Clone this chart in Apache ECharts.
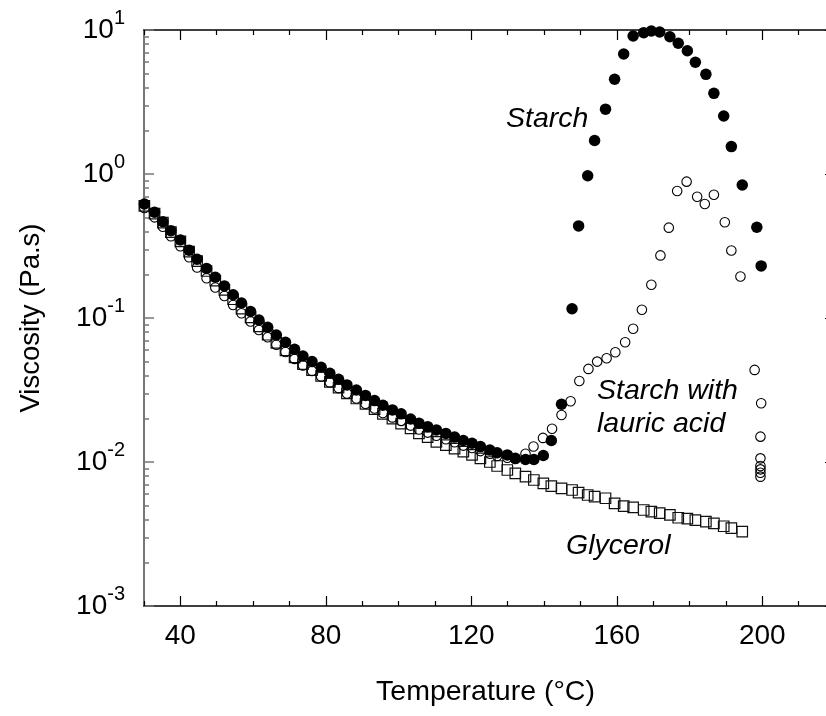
<!DOCTYPE html>
<html>
<head>
<meta charset="utf-8">
<script src="https://cdn.jsdelivr.net/npm/echarts@6/dist/echarts.min.js"></script>
<style>
  html, body { margin: 0; padding: 0; background: #fff; }
  #chart { width: 826px; height: 716px; }
</style>
</head>
<body>
<div id="chart"></div>
<script>
// Viscosity vs temperature for starch, starch + lauric acid and glycerol

const starchT = [30.1, 32.9, 35.2, 37.4, 40.0, 42.4, 44.6, 47.2, 49.6, 52.1, 54.5, 56.8, 59.3, 61.6, 64.0, 66.4, 68.9, 71.4, 73.7, 76.2,
  78.7, 81.1, 83.5, 85.8, 88.4, 90.9, 93.4, 95.7, 98.3, 100.7, 103.3, 105.6, 108.0, 110.4, 113.0, 115.4, 117.8, 120.2, 122.5, 125.1,
  127.1, 129.9, 132.1, 134.9, 137.2, 139.8, 142.0, 144.8, 147.7, 149.5, 152.0, 153.9, 156.9, 159.4, 161.9, 164.5, 167.4, 169.5, 171.8, 174.6,
  176.9, 179.4, 181.6, 184.5, 186.7, 189.4, 191.5, 194.5, 198.5, 199.7];
const starchV = [0.619, 0.542, 0.466, 0.404, 0.348, 0.296, 0.256, 0.221, 0.192, 0.167, 0.145, 0.127, 0.111, 0.0968, 0.0861, 0.0762, 0.0678, 0.0606, 0.0545, 0.0498,
  0.0455, 0.0413, 0.0375, 0.0343, 0.0316, 0.0290, 0.0267, 0.0248, 0.0230, 0.0216, 0.0199, 0.0186, 0.0176, 0.0167, 0.0158, 0.0149, 0.0141, 0.0135, 0.0128, 0.0121,
  0.0116, 0.0112, 0.0106, 0.0104, 0.0104, 0.0111, 0.0141, 0.0252, 0.116, 0.436, 0.973, 1.71, 2.82, 4.55, 6.81, 9.09, 9.58, 9.84, 9.69, 8.98,
  8.09, 7.18, 5.97, 4.92, 3.63, 2.53, 1.55, 0.839, 0.427, 0.230];

const lauricT = [30.1, 32.9, 35.2, 37.4, 40.0, 42.4, 44.6, 47.2, 49.6, 52.1, 54.5, 56.8, 59.3, 61.6, 64.0, 66.4, 68.9, 71.4, 73.7, 76.2,
  78.7, 81.1, 83.5, 85.8, 88.4, 90.9, 93.4, 95.7, 98.3, 100.7, 103.3, 105.6, 108.0, 110.4, 113.0, 115.4, 117.8, 120.2, 122.5, 125.1,
  127.1, 129.9, 132.1, 134.9, 137.1, 139.7, 142.2, 144.8, 147.3, 149.7, 152.2, 154.6, 157.2, 159.6, 162.3, 164.5, 166.9, 169.5, 172.0, 174.3,
  176.6, 179.2, 182.1, 184.2, 186.7, 189.7, 191.5, 194.0, 197.9, 199.7, 199.5, 199.5, 199.5, 199.5, 199.5, 199.5];
const lauricV = [0.580, 0.500, 0.430, 0.370, 0.315, 0.264, 0.224, 0.189, 0.163, 0.142, 0.123, 0.108, 0.0945, 0.0825, 0.0735, 0.0652, 0.0580, 0.0520, 0.0468, 0.0428,
  0.0392, 0.0357, 0.0326, 0.0299, 0.0276, 0.0254, 0.0235, 0.0219, 0.0204, 0.0193, 0.0179, 0.0168, 0.0160, 0.0152, 0.0144, 0.0137, 0.0130, 0.0125, 0.0119, 0.0114,
  0.0110, 0.0107, 0.0105, 0.0114, 0.0128, 0.0147, 0.0170, 0.0212, 0.0264, 0.0365, 0.0443, 0.0498, 0.0525, 0.0578, 0.0678, 0.0843, 0.114, 0.170, 0.272, 0.424,
  0.762, 0.885, 0.695, 0.619, 0.718, 0.462, 0.294, 0.194, 0.0436, 0.0256, 0.0150, 0.0106, 0.00938, 0.00889, 0.00843, 0.00791];

const glycerolT = [30.1, 32.9, 35.2, 37.4, 40.0, 42.4, 44.6, 47.2, 49.6, 52.1, 54.5, 56.8, 59.3, 61.6, 64.0, 66.4, 68.9, 71.4, 73.7, 76.2,
  78.7, 81.1, 83.5, 85.8, 88.4, 90.9, 93.4, 95.7, 98.3, 100.7, 103.3, 105.6, 108.0, 110.4, 113.0, 115.4, 117.8, 120.2, 122.5, 125.1,
  127.1, 129.9, 132.1, 134.9, 137.2, 139.8, 142.0, 144.8, 147.7, 149.5, 152.0, 153.9, 156.9, 159.4, 161.9, 164.5, 167.4, 169.5, 171.8, 174.6,
  176.9, 179.4, 181.6, 184.5, 186.7, 189.4, 191.5, 194.5];
const glycerolV = [0.600, 0.530, 0.460, 0.395, 0.340, 0.289, 0.248, 0.212, 0.182, 0.157, 0.135, 0.116, 0.101, 0.0875, 0.0765, 0.0672, 0.0595, 0.0532, 0.0478, 0.0434,
  0.0396, 0.0360, 0.0328, 0.0300, 0.0276, 0.0253, 0.0233, 0.0216, 0.0200, 0.0185, 0.0171, 0.0158, 0.0149, 0.0138, 0.0131, 0.0124, 0.0118, 0.0112, 0.0106, 0.0100,
  0.00938, 0.00880, 0.00835, 0.00791, 0.00750, 0.00711, 0.00681, 0.00656, 0.00639, 0.00612, 0.00590, 0.00574, 0.00560, 0.00516, 0.00494, 0.00484, 0.00464, 0.00452, 0.00441, 0.00429,
  0.00410, 0.00404, 0.00395, 0.00385, 0.00375, 0.00358, 0.00347, 0.00328];

const xMajorTicks = [40, 80, 120, 160, 200];
const xMinorTicks = [30, 50, 60, 70, 90, 100, 110, 130, 140, 150, 170, 180, 190, 210, 220];
const yMajorTicks = [0.001, 0.01, 0.1, 1, 10];
const yMinorTicks = [0.002, 0.003, 0.004, 0.005, 0.006, 0.007, 0.008, 0.009,
  0.02, 0.03, 0.04, 0.05, 0.06, 0.07, 0.08, 0.09,
  0.2, 0.3, 0.4, 0.5, 0.6, 0.7, 0.8, 0.9,
  2, 3, 4, 5, 6, 7, 8, 9];

const FONT = '"Liberation Sans", Arial, sans-serif';
const pair = (xs, ys) => xs.map((x, i) => [x, ys[i]]);

const chart = echarts.init(document.getElementById('chart'), null, { renderer: 'canvas' });

const xBase = { type: 'value', min: 30, max: 220, gridIndex: 0, splitLine: { show: false } };
const yBase = { type: 'log', logBase: 10, min: 0.001, max: 10, gridIndex: 0, splitLine: { show: false } };

chart.setOption({
  animation: false,
  backgroundColor: '#fff',
  // the right frame edge sits just past the canvas edge; only its tick stubs show
  grid: { left: 144, top: 30, width: 691, height: 576, containLabel: false, outerBoundsMode: 'none' },
  xAxis: [
    Object.assign({}, xBase, {
      position: 'bottom',
      name: 'Temperature (°C)',
      nameLocation: 'middle',
      nameGap: 72,
      nameTextStyle: { fontFamily: FONT, fontSize: 28.5, color: '#000', padding: [0, 8, 0, 0] },
      axisLine: { show: true, lineStyle: { color: '#000', width: 1.5 } },
      axisTick: { show: true, inside: true, length: 10, customValues: xMajorTicks, lineStyle: { color: '#000', width: 1.2 } },
      axisLabel: { show: true, customValues: xMajorTicks, margin: 16, fontFamily: FONT, fontSize: 28, color: '#000' }
    }),
    Object.assign({}, xBase, {
      position: 'bottom',
      axisLine: { show: false },
      axisTick: { show: true, inside: true, length: 5, customValues: xMinorTicks, lineStyle: { color: '#000', width: 1.2 } },
      axisLabel: { show: false }
    }),
    Object.assign({}, xBase, {
      position: 'top',
      axisLine: { show: true, lineStyle: { color: '#000', width: 1.5 } },
      axisTick: { show: true, inside: true, length: 10, customValues: xMajorTicks, lineStyle: { color: '#000', width: 1.2 } },
      axisLabel: { show: false }
    }),
    Object.assign({}, xBase, {
      position: 'top',
      axisLine: { show: false },
      axisTick: { show: true, inside: true, length: 5, customValues: xMinorTicks, lineStyle: { color: '#000', width: 1.2 } },
      axisLabel: { show: false }
    })
  ],
  yAxis: [
    Object.assign({}, yBase, {
      position: 'left',
      name: 'Viscosity (Pa.s)',
      nameLocation: 'middle',
      nameGap: 99,
      nameRotate: 90,
      nameTextStyle: { fontFamily: FONT, fontSize: 27.5, color: '#000' },
      axisLine: { show: true, lineStyle: { color: '#777', width: 2 } },
      axisTick: { show: true, inside: true, length: 10, customValues: yMajorTicks, lineStyle: { color: '#777', width: 1.5 } },
      axisLabel: {
        show: true,
        customValues: yMajorTicks,
        margin: 19,
        formatter: v => '{b|10}{s|' + Math.round(Math.log10(v)) + '}',
        rich: {
          b: { fontFamily: FONT, fontSize: 28, color: '#000', lineHeight: 28 },
          s: { fontFamily: FONT, fontSize: 20, color: '#000', verticalAlign: 'top', height: 4, lineHeight: 4 }
        }
      }
    }),
    Object.assign({}, yBase, {
      position: 'left',
      axisLine: { show: false },
      axisTick: { show: true, inside: true, length: 5, customValues: yMinorTicks, lineStyle: { color: '#777', width: 1.5 } },
      axisLabel: { show: false }
    }),
    Object.assign({}, yBase, {
      position: 'right',
      axisLine: { show: true, lineStyle: { color: '#000', width: 1.5 } },
      axisTick: { show: true, inside: true, length: 10, customValues: yMajorTicks, lineStyle: { color: '#000', width: 1.2 } },
      axisLabel: { show: false }
    })
  ],
  series: [
    {
      name: 'Glycerol',
      type: 'scatter',
      xAxisIndex: 0, yAxisIndex: 0,
      symbol: 'rect',
      symbolSize: 10.5,
      clip: false,
      itemStyle: { color: 'rgba(0,0,0,0)', borderColor: '#111', borderWidth: 1.2, opacity: 1 },
      data: pair(glycerolT, glycerolV)
    },
    {
      name: 'Starch with lauric acid',
      type: 'scatter',
      xAxisIndex: 0, yAxisIndex: 0,
      symbol: 'circle',
      symbolSize: 9.5,
      clip: false,
      itemStyle: { color: 'rgba(0,0,0,0)', borderColor: '#000', borderWidth: 1.1, opacity: 1 },
      data: pair(lauricT, lauricV)
    },
    {
      name: 'Starch',
      type: 'scatter',
      xAxisIndex: 0, yAxisIndex: 0,
      symbol: 'circle',
      symbolSize: 11.5,
      clip: false,
      itemStyle: { color: '#000', opacity: 1 },
      data: pair(starchT, starchV)
    }
  ],
  graphic: [
    { type: 'text', left: 506, top: 105, style: { text: 'Starch', font: 'italic 28.5px ' + FONT, fill: '#000' } },
    { type: 'text', left: 597, top: 377, style: { text: 'Starch with', font: 'italic 28.5px ' + FONT, fill: '#000' } },
    { type: 'text', left: 597, top: 410, style: { text: 'lauric acid', font: 'italic 28.5px ' + FONT, fill: '#000' } },
    { type: 'text', left: 566, top: 532, style: { text: 'Glycerol', font: 'italic 28.5px ' + FONT, fill: '#000' } }
  ]
});
</script>
</body>
</html>
